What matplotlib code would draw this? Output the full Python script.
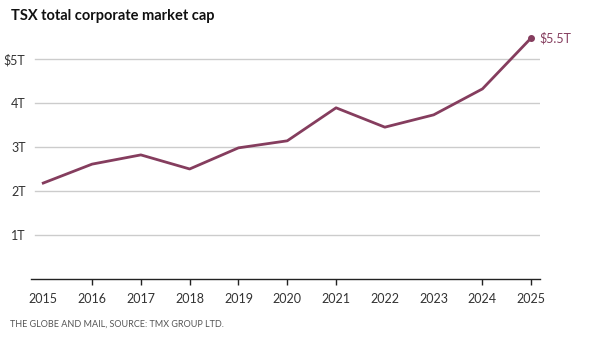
import matplotlib.pyplot as plt

# Data (trillions of CAD)
years = [2015, 2016, 2017, 2018, 2019, 2020, 2021, 2022, 2023, 2024, 2025]
market_cap = [2.18, 2.61, 2.82, 2.50, 2.98, 3.14, 3.89, 3.45, 3.73, 4.32, 5.48]
y_ticks = [1, 2, 3, 4, 5]
y_labels = ['1T', '2T', '3T', '4T', '$5T']
tick_mark_years = [2016, 2017, 2018, 2019, 2020, 2021, 2024, 2025]
end_label = '$5.5T'

line_color = '#853d5e'
text_color = '#333333'

plt.rcParams['font.family'] = ['Lato', 'DejaVu Sans']

fig = plt.figure(figsize=(5.97, 3.45), dpi=100)
ax = fig.add_axes([0.052, 0.1913, 0.8526, 0.722])

# Horizontal gridlines (start a little right of the axis line)
for v in y_ticks:
    ax.axhline(v, xmin=0.008, color='#cccccc', lw=1, zorder=1)

ax.plot(years, market_cap, color=line_color, lw=2, zorder=3)
ax.plot(years[-1], market_cap[-1], 'o', color=line_color, markersize=4, zorder=4)
ax.annotate(end_label, (years[-1], market_cap[-1]), xytext=(6, 0),
            textcoords='offset points', va='center', ha='left',
            color=line_color, fontsize=9, annotation_clip=False)

ax.set_xlim(2014.75, 2025.18)
ax.set_ylim(0, 5.66)

ax.set_yticks(y_ticks)
ax.set_yticklabels(y_labels)
ax.tick_params(axis='y', length=0, pad=4, labelsize=9, labelcolor=text_color)

ax.set_xticks(years)
ax.set_xticklabels([str(y) for y in years])
ax.tick_params(axis='x', which='major', length=0, pad=10, labelsize=9, labelcolor=text_color)
# tick marks only under some years, as in the original
ax.xaxis.remove_overlapping_locs = False
ax.set_xticks(tick_mark_years, minor=True)
ax.tick_params(axis='x', which='minor', length=4, width=1, color='#222222', direction='out')

for side in ['top', 'right', 'left']:
    ax.spines[side].set_visible(False)
ax.spines['bottom'].set_color('#222222')
ax.spines['bottom'].set_linewidth(1)

fig.text(0.019, 0.955, 'TSX total corporate market cap', fontsize=10.5,
         fontweight='bold', color='#111111', va='center', ha='left')
fig.text(0.017, 0.06, 'THE GLOBE AND MAIL, SOURCE: TMX GROUP LTD.', fontsize=6.5,
         color='#555555', va='center', ha='left')

fig.savefig('out.png', dpi=100)
